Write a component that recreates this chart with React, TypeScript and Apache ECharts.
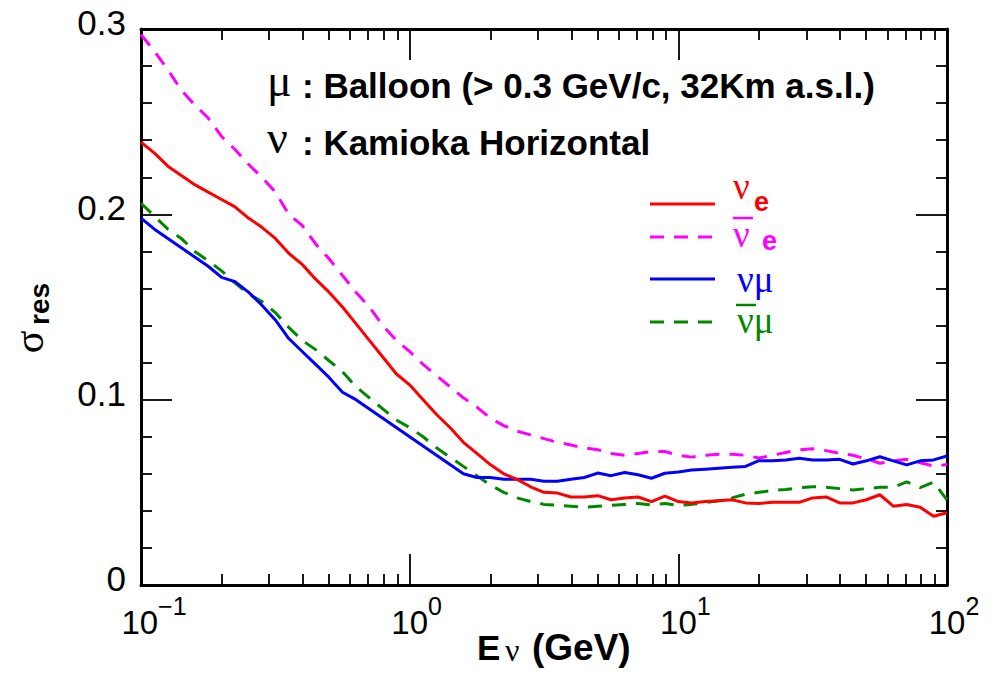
import React, { useEffect, useRef } from "react";
import * as echarts from "echarts";

// log10(E / GeV) sampling points
const LOG_E = [
  -1.0, -0.95, -0.9, -0.85, -0.8, -0.75, -0.7, -0.65, -0.6, -0.55,
  -0.5, -0.45, -0.4, -0.35, -0.3, -0.25, -0.2, -0.15, -0.1, -0.05,
  0.0, 0.05, 0.1, 0.15, 0.2, 0.25, 0.3, 0.35, 0.4, 0.45,
  0.5, 0.55, 0.6, 0.65, 0.7, 0.75, 0.8, 0.85, 0.9, 0.95,
  1.0, 1.05, 1.1, 1.15, 1.2, 1.25, 1.3, 1.35, 1.4, 1.45,
  1.5, 1.55, 1.6, 1.65, 1.7, 1.75, 1.8, 1.85, 1.9, 1.95, 2.0,
];

const NU_E = [
  0.239, 0.233, 0.226, 0.221, 0.216, 0.212, 0.208, 0.204, 0.198, 0.193,
  0.187, 0.179, 0.173, 0.165, 0.158, 0.150, 0.141, 0.132, 0.123, 0.114,
  0.108, 0.100, 0.092, 0.085, 0.077, 0.071, 0.065, 0.060, 0.057, 0.053,
  0.050, 0.0496, 0.0475, 0.0475, 0.0482, 0.046, 0.047, 0.0475, 0.045, 0.048,
  0.045, 0.0443, 0.045, 0.0455, 0.046, 0.0443, 0.044, 0.0446, 0.0446, 0.0446,
  0.047, 0.0475, 0.0443, 0.0443, 0.046, 0.0487, 0.0425, 0.0434, 0.042, 0.0371, 0.039,
];

const NU_E_BAR = [
  0.297, 0.288, 0.278, 0.267, 0.259, 0.252, 0.242, 0.235, 0.227, 0.220,
  0.212, 0.200, 0.194, 0.184, 0.176, 0.167, 0.158, 0.150, 0.140, 0.132,
  0.126, 0.119, 0.113, 0.107, 0.101, 0.096, 0.090, 0.086, 0.083, 0.081,
  0.079, 0.077, 0.0755, 0.074, 0.073, 0.071, 0.070, 0.071, 0.072, 0.072,
  0.070, 0.069, 0.070, 0.0705, 0.0705, 0.070, 0.0685, 0.070, 0.0715, 0.073,
  0.0735, 0.0725, 0.071, 0.070, 0.068, 0.0657, 0.067, 0.0678, 0.066, 0.0642, 0.065,
];

const NU_MU = [
  0.198, 0.192, 0.187, 0.182, 0.177, 0.172, 0.166, 0.1637, 0.158, 0.151,
  0.143, 0.133, 0.126, 0.119, 0.112, 0.104, 0.100, 0.095, 0.090, 0.085,
  0.080, 0.075, 0.070, 0.065, 0.060, 0.058, 0.058, 0.057, 0.057, 0.057,
  0.056, 0.056, 0.057, 0.058, 0.0604, 0.059, 0.0607, 0.0595, 0.0576, 0.0603,
  0.061, 0.062, 0.0625, 0.063, 0.0635, 0.064, 0.0671, 0.067, 0.0675, 0.0684,
  0.0675, 0.0675, 0.0678, 0.0653, 0.067, 0.0692, 0.067, 0.0648, 0.067, 0.0675, 0.0696,
];

const NU_MU_BAR = [
  0.206, 0.199, 0.192, 0.187, 0.180, 0.175, 0.1695, 0.163, 0.157, 0.153,
  0.147, 0.139, 0.132, 0.127, 0.121, 0.115, 0.107, 0.101, 0.095, 0.089,
  0.085, 0.080, 0.074, 0.069, 0.064, 0.059, 0.054, 0.050, 0.047, 0.045,
  0.0435, 0.043, 0.0425, 0.042, 0.0425, 0.043, 0.0435, 0.044, 0.0432, 0.044,
  0.043, 0.0435, 0.0444, 0.0455, 0.047, 0.049, 0.050, 0.051, 0.0515, 0.0525,
  0.053, 0.0528, 0.052, 0.0513, 0.052, 0.0527, 0.0527, 0.0557, 0.0525, 0.0555, 0.0459,
];

const X_RANGE = [0.1, 100];
const Y_TICKS = [0, 0.1, 0.2, 0.3];

const ANNOT_1 = ": Balloon (> 0.3 GeV/c, 32Km a.s.l.)";
const ANNOT_2 = ": Kamioka Horizontal";

const RED = "#ff0000";
const MAGENTA = "#ff00ff";
const BLUE = "#0000ff";
const GREEN = "#008800";
const DASH = [14, 10];

const SANS = '"Liberation Sans", Arial, Helvetica, sans-serif';
const SERIF = '"Liberation Serif", "Times New Roman", serif';
const NU_FONT = `37px ${SERIF}`;
const SUB_FONT = `bold 27px ${SANS}`;

function txt(x: number, y: number, text: string, font: string, fill = "#000", extra: any = {}) {
  const { align, ...rest } = extra;
  return {
    type: "text",
    x,
    y,
    ...rest,
    style: {
      text,
      font,
      fill,
      align: align || "left",
      verticalAlign: "middle",
    },
  };
}

function hline(x1: number, x2: number, y: number, color: string, dashed: boolean) {
  return {
    type: "line",
    shape: { x1, y1: y, x2, y2: y },
    style: { stroke: color, lineWidth: 3, lineDash: dashed ? DASH : null },
  };
}

export default function App() {
  const ref = useRef<HTMLDivElement>(null);

  useEffect(() => {
    if (!ref.current) return;
    const chart = echarts.init(ref.current, null, { renderer: "svg" });

    const axisLineStyle = () => ({ color: "#000", width: 3 });
    const tickStyle = () => ({ color: "#000", width: 1.8 });

    const xAxis = (position: string, labels: boolean) => ({
      type: "log",
      logBase: 10,
      min: X_RANGE[0],
      max: X_RANGE[1],
      position,
      splitLine: { show: false },
      minorSplitLine: { show: false },
      axisLine: { show: true, onZero: false, lineStyle: axisLineStyle() },
      axisTick: { show: true, inside: true, length: 31, lineStyle: tickStyle() },
      minorTick: { show: true, splitNumber: 9, length: 11, lineStyle: tickStyle() },
      axisLabel: labels
        ? {
            show: true,
            margin: 8,
            formatter: (v: number) => {
              const n = Math.round(Math.log10(v));
              const sup = n < 0 ? "\u2212" + -n : String(n);
              return `{${n < 0 ? "pw" : "pn"}|}{b|10}{s|${sup}}`;
            },
            rich: {
              b: { fontSize: 33, fontFamily: SANS, color: "#000" },
              s: { fontSize: 25, fontFamily: SANS, color: "#000", padding: [0, 0, 34, 0] },
              pw: { width: 26 },
              pn: { width: 14 },
            },
          }
        : { show: false },
    });

    const yAxis = (position: string, labels: boolean) => ({
      type: "value",
      min: Y_TICKS[0],
      max: Y_TICKS[Y_TICKS.length - 1],
      interval: 0.1,
      position,
      splitLine: { show: false },
      minorSplitLine: { show: false },
      axisLine: { show: true, onZero: false, lineStyle: axisLineStyle() },
      axisTick: { show: true, inside: true, length: 31, lineStyle: tickStyle() },
      minorTick: { show: true, splitNumber: 5, length: 11, lineStyle: tickStyle() },
      axisLabel: labels
        ? {
            show: true,
            margin: 15,
            formatter: (v: number) => `{a|${Math.abs(v) < 1e-9 ? "0" : v.toFixed(1)}}`,
            rich: {
              a: { fontSize: 35, fontFamily: SANS, color: "#000", padding: [0, 0, 13, 0] },
            },
          }
        : { show: false },
    });

    const mk = (name: string, vals: number[], color: string, dashed: boolean) => ({
      name,
      type: "line",
      xAxisIndex: 0,
      yAxisIndex: 0,
      showSymbol: false,
      symbol: "none",
      data: LOG_E.map((lx, i) => [Math.pow(10, lx), vals[i]]),
      lineStyle: { color, width: 3, type: dashed ? DASH : "solid" },
      itemStyle: { color },
    });

    const graphics: any[] = [
      // annotation
      txt(267, 80, "\u03bc", `46px ${SERIF}`),
      txt(302, 85, ANNOT_1, `bold 35px ${SANS}`),
      txt(267, 137, "\u03bd", `46px ${SERIF}`),
      txt(302, 142, ANNOT_2, `bold 35px ${SANS}`),
      // legend keys
      hline(650, 715, 204, RED, false),
      hline(650, 715, 237, MAGENTA, true),
      hline(650, 715, 279, BLUE, false),
      hline(650, 715, 322, GREEN, true),
      // legend labels
      txt(733, 186, "\u03bd", NU_FONT, RED),
      txt(754, 202, "e", SUB_FONT, RED),
      { type: "line", shape: { x1: 733, y1: 218, x2: 753, y2: 218 }, style: { stroke: MAGENTA, lineWidth: 2.5 } },
      txt(733, 234, "\u03bd", NU_FONT, MAGENTA),
      txt(762, 241, "e", SUB_FONT, MAGENTA),
      txt(737, 279, "\u03bd\u03bc", NU_FONT, BLUE),
      { type: "line", shape: { x1: 736, y1: 305, x2: 756, y2: 305 }, style: { stroke: GREEN, lineWidth: 2.5 } },
      txt(737, 320, "\u03bd\u03bc", NU_FONT, GREEN),
      // x axis title
      txt(477, 647, "E", `bold 35px ${SANS}`),
      txt(505, 650, "\u03bd", `32px ${SERIF}`),
      txt(532, 647, "(GeV)", `bold 37px ${SANS}`),
      // y axis title (rotated)
      txt(29, 342, "\u03c3", `42px ${SERIF}`, "#000", { align: "center", rotation: Math.PI / 2 }),
      txt(39, 304, "res", `bold 28px ${SANS}`, "#000", { align: "center", rotation: Math.PI / 2 }),
    ];

    chart.setOption({
      animation: false,
      backgroundColor: "#ffffff",
      grid: { left: 141, right: 54, top: 29, bottom: 98, containLabel: false },
      xAxis: [xAxis("bottom", true), xAxis("top", false)],
      yAxis: [yAxis("left", true), yAxis("right", false)],
      series: [
        mk("nu_e_bar", NU_E_BAR, MAGENTA, true),
        mk("nu_mu_bar", NU_MU_BAR, GREEN, true),
        mk("nu_mu", NU_MU, BLUE, false),
        mk("nu_e", NU_E, RED, false),
      ],
      graphic: graphics,
    });

    return () => chart.dispose();
  }, []);

  return (
    <div
      ref={ref}
      style={{ position: "absolute", left: 0, top: 0, width: 1001, height: 683, background: "#fff" }}
    />
  );
}
